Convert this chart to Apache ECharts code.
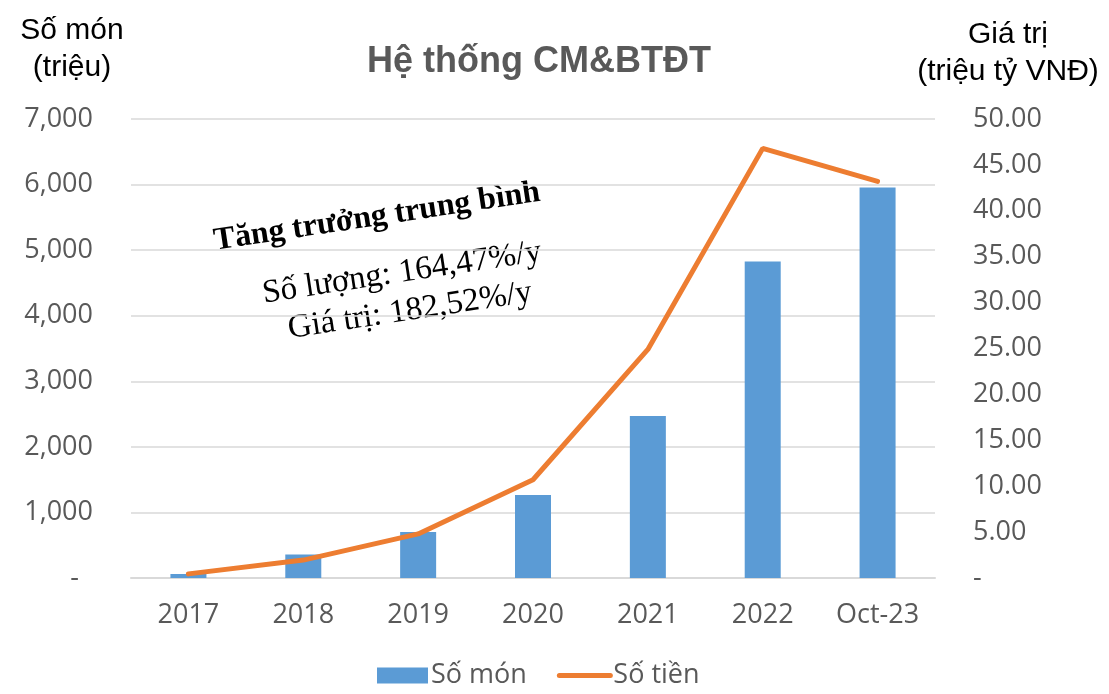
<!DOCTYPE html>
<html>
<head>
<meta charset="utf-8">
<script src="https://cdn.jsdelivr.net/npm/echarts@6/dist/echarts.min.js"></script>
<style>
html,body{margin:0;padding:0;background:#fff;}
#main{width:1109px;height:694px;}
</style>
</head>
<body>
<div id="main"></div>
<script>
// du lieu
var categories = ['2017', '2018', '2019', '2020', '2021', '2022', 'Oct-23'];
var soMon = [60, 360, 700, 1265, 2470, 4825, 5955];      // trieu mon
var soTien = [0.45, 1.95, 4.8, 10.7, 24.9, 46.8, 43.2];  // trieu ty VND
var leftTicks = [0, 7000, 1000];
var rightTicks = [0, 50, 5];

var chart = echarts.init(document.getElementById('main'));
var font = '"Open Sans", "Noto Sans", sans-serif';
var arial = '"Liberation Sans", Arial, sans-serif';
var serif = '"Liberation Serif", "Times New Roman", serif';
var rot = 0.15;

var option = {
	animation: false,
	backgroundColor: '#fff',
	title: {
		text: 'Hệ thống CM&BTĐT',
		left: 534, top: 39, textAlign: 'center',
		textStyle: { fontFamily: arial, fontSize: 36, fontWeight: 'bold', color: '#595959' }
	},
	grid: { left: 131, right: 174, top: 119, bottom: 116 },
	legend: {
		bottom: 0, left: 372,
		itemWidth: 51, itemHeight: 16, itemGap: 30,
		textStyle: { fontFamily: font, fontSize: 27, color: '#595959', padding: [0, 0, 0, -2] },
		data: [
			{ name: 'Số món', icon: 'rect' },
			{ name: 'Số tiền', itemStyle: { opacity: 0 }, lineStyle: { width: 5, cap: 'round' } }
		]
	},
	xAxis: {
		type: 'category',
		data: categories,
		axisTick: { show: false },
		axisLine: { show: true, lineStyle: { color: '#d9d9d9', width: 2 } },
		axisLabel: { fontFamily: font, fontSize: 27, color: '#595959', margin: 24 }
	},
	yAxis: [{
		type: 'value',
		min: leftTicks[0], max: leftTicks[1], interval: leftTicks[2],
		axisLine: { show: false }, axisTick: { show: false },
		splitLine: { lineStyle: { color: '#d9d9d9', width: 1.5 } },
		axisLabel: {
			fontFamily: font, fontSize: 27, color: '#595959', margin: 38,
			formatter: function (v) { return v === 0 ? '-  ' : v.toLocaleString('en-US'); }
		}
	}, {
		type: 'value',
		min: rightTicks[0], max: rightTicks[1], interval: rightTicks[2],
		axisLine: { show: false }, axisTick: { show: false },
		splitLine: { show: false },
		axisLabel: {
			fontFamily: font, fontSize: 27, color: '#595959', margin: 38,
			formatter: function (v) { return v === 0 ? '-' : v.toFixed(2); }
		}
	}],
	series: [{
		name: 'Số món',
		type: 'bar',
		data: soMon,
		barWidth: 36,
		itemStyle: { color: '#5b9bd5' }
	}, {
		name: 'Số tiền',
		type: 'line',
		yAxisIndex: 1,
		data: soTien,
		symbol: 'none',
		lineStyle: { color: '#ed7d31', width: 5, cap: 'round' },
		itemStyle: { color: '#ed7d31' }
	}],
	graphic: [{
		type: 'text', x: 72, y: 12,
		style: { text: 'Số món\n(triệu)', font: '30px ' + arial, fill: '#000', align: 'center', lineHeight: 37 }
	}, {
		type: 'text', x: 1008, y: 16,
		style: { text: 'Giá trị\n(triệu tỷ VNĐ)', font: '30px ' + arial, fill: '#000', align: 'center', lineHeight: 37 }
	}, {
		type: 'text', x: 377, y: 217, rotation: rot,
		style: { text: 'Tăng trưởng trung bình', font: 'bold 32px ' + serif, fill: '#000', align: 'center', verticalAlign: 'middle' }
	}, {
		type: 'text', x: 402, y: 273, rotation: rot,
		style: { text: 'Số lượng: 164,47%/y', font: '33px ' + serif, fill: '#000', align: 'center', verticalAlign: 'middle' }
	}, {
		type: 'text', x: 410, y: 311, rotation: rot,
		style: { text: 'Giá trị: 182,52%/y', font: '33px ' + serif, fill: '#000', align: 'center', verticalAlign: 'middle' }
	}]
};
chart.setOption(option);
</script>
</body>
</html>
